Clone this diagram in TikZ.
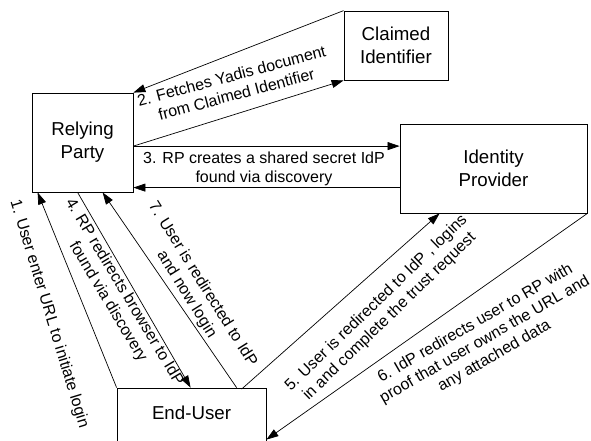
\documentclass[tikz,border=0pt]{standalone}
\usepackage{fontspec}
\setmainfont{Liberation Sans}
\usetikzlibrary{arrows.meta,calc}

\begin{document}
\begin{tikzpicture}[x=1pt,y=-1pt,
  entity/.style={draw, line width=0.8pt, inner sep=0pt, align=center,
    font=\fontsize{18.7}{23}\selectfont},
  boxtext/.style={inner sep=0pt, font=\fontsize{18.7}{23}\selectfont},
  flow/.style={line width=0.7pt, -{Triangle[length=12pt,width=8pt]}},
  note/.style={inner sep=0pt, align=center, font=\fontsize{16}{19}\selectfont}]

\useasboundingbox (0,0) rectangle (591,441);
\fill[white] (0,0) rectangle (591,441);
\clip (0,0) rectangle (591,441);

% parties
\node[entity, minimum width=101pt, minimum height=99pt] (rp) at (82.5,142.5) {Relying\\Party};
\node[entity, minimum width=104pt, minimum height=69pt] (ci) at (396,45.5) {Claimed\\Identifier};
\node[entity, minimum width=187pt, minimum height=89pt] (idp) at (493.5,168.5) {Identity\\Provider};
\node[entity, minimum width=149pt, minimum height=60pt] (eu) at (191.5,418) {};
\node[boxtext] (eulabel) at (191.5,413) {End-User};

% message flows
\coordinate (rpout) at ($(rp.north east)+(0,53.5)$);
\draw[flow] (eu.north west) -- ($(rp.south west)+(6,0)$);
\draw[flow] (ci.north west) -- (rp.north east);
\draw[flow] (rpout) -- (ci.south west);
\draw[flow] (rpout) -- (rpout -| idp.west);
\draw[flow] ($(idp.north west)+(0,64)$) -- ($(rp.north east)+(0,95)$);
\draw[flow] ($(rp.south west)+(46,0)$) -- ($(eu.north west)+(74,0)$);
\draw[flow] ($(eu.north west)+(120,0)$) -- ($(rp.south west)+(71,0)$);
\draw[flow] ($(eu.north west)+(125,1.5)$) -- ($(idp.south west)+(40,0)$);
\draw[flow] (idp.south east) -- ($(eu.north east)+(0,52)$);

% step labels
\node[note, rotate=15] (l2) at (234,85) {2. Fetches Yadis document\\from Claimed Identifier};
\node[note] (l3) at (264,169) {3. RP creates a shared secret IdP\\found via discovery};
\node[note, rotate=-73] (l1) at (49,314) {1. User enter URL to initiate login};
\node[note, rotate=-59] (l4) at (116,297) {4. RP redirects browser to IdP\\found via discovery};
\node[note, rotate=-58] (l7) at (194.5,289.5) {7. User is redirected to IdP\\and now login};
\node[note, rotate=44] (l5) at (383,310) {5. User is redirected to IdP , logins\\in and complete the trust request};
\node[note, rotate=30] (l6) at (485,340) {6. IdP redirects user to RP with\\proof that user owns the URL and\\any attached data};
\end{tikzpicture}
\end{document}
